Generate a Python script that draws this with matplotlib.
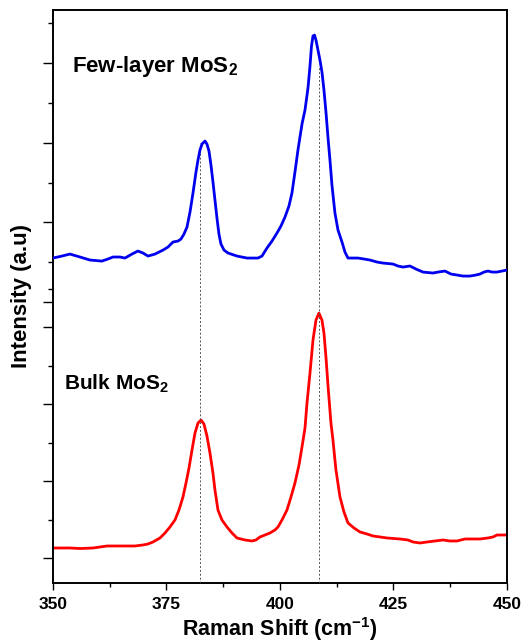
import numpy as np
import matplotlib
matplotlib.use("Agg")
import matplotlib.pyplot as plt
from matplotlib.ticker import MultipleLocator, FixedLocator

plt.rcParams['font.family'] = ['Liberation Sans', 'DejaVu Sans']
plt.rcParams['font.weight'] = 'bold'
plt.rcParams['mathtext.fontset'] = 'custom'
plt.rcParams['mathtext.rm'] = 'Liberation Sans:bold'
plt.rcParams['mathtext.default'] = 'rm'

# few-layer MoS2 spectrum (blue, upper trace)
few_shift = [350.00, 351.98, 353.74, 355.95, 358.15, 360.79, 362.11, 363.22, 364.76, 365.86,
             367.40, 368.72, 369.82, 370.93, 372.47, 374.23, 375.33, 376.43, 377.53, 378.19,
             378.85, 379.52, 380.18, 380.84, 381.50, 381.94, 382.38, 382.82, 383.48, 383.92,
             384.36, 384.80, 385.24, 385.68, 386.12, 386.56, 387.00, 387.67, 388.55, 390.53,
             392.73, 395.15, 396.04, 397.14, 398.24, 399.34, 400.22, 401.10, 401.98, 402.64,
             403.30, 403.96, 404.85, 405.51, 406.17, 406.61, 406.94, 407.27, 407.60, 407.93,
             408.37, 408.81, 409.25, 409.69, 410.13, 410.57, 411.01, 411.45, 412.11, 412.78,
             413.66, 414.32, 414.98, 416.08, 417.18, 418.50, 419.82, 421.37, 422.69, 424.89,
             425.99, 427.09, 428.63, 429.96, 431.50, 433.70, 434.80, 436.34, 437.67, 438.99,
             440.31, 441.85, 443.17, 444.05, 444.93, 445.81, 446.70, 447.80, 448.90, 450.00]
few_int = [1.552, 1.577, 1.602, 1.565, 1.527, 1.514, 1.540, 1.565, 1.565, 1.552,
           1.602, 1.640, 1.615, 1.577, 1.602, 1.652, 1.690, 1.753, 1.765, 1.790,
           1.853, 1.941, 2.129, 2.368, 2.631, 2.782, 2.907, 2.982, 3.020, 2.982,
           2.895, 2.719, 2.506, 2.280, 2.054, 1.853, 1.728, 1.652, 1.615, 1.577,
           1.552, 1.552, 1.577, 1.678, 1.765, 1.866, 1.954, 2.066, 2.205, 2.368,
           2.631, 2.907, 3.233, 3.409, 3.685, 3.961, 4.212, 4.338, 4.350, 4.287,
           4.162, 4.036, 3.886, 3.660, 3.384, 3.070, 2.782, 2.468, 2.117, 1.903,
           1.753, 1.627, 1.552, 1.552, 1.552, 1.540, 1.527, 1.502, 1.489, 1.477,
           1.452, 1.439, 1.452, 1.414, 1.376, 1.364, 1.376, 1.389, 1.351, 1.339,
           1.326, 1.326, 1.339, 1.351, 1.376, 1.389, 1.376, 1.376, 1.389, 1.401]

# bulk MoS2 spectrum (red, lower trace)
bulk_shift = [350.00, 353.74, 355.95, 358.81, 360.35, 361.89, 363.66, 366.30, 368.06, 369.82,
              370.93, 372.03, 373.57, 374.67, 375.77, 376.87, 377.75, 378.63, 379.30, 379.96,
              380.62, 381.28, 381.94, 382.60, 383.26, 383.92, 384.58, 385.24, 385.68, 386.34,
              387.22, 388.33, 389.43, 390.53, 392.29, 393.83, 394.71, 395.59, 396.70, 397.80,
              398.90, 399.56, 400.44, 401.54, 402.42, 403.30, 404.19, 404.85, 405.51, 405.95,
              406.61, 407.27, 407.93, 408.59, 409.25, 409.69, 410.13, 410.57, 411.23, 411.67,
              412.33, 413.22, 414.10, 414.98, 416.30, 417.62, 419.16, 420.48, 422.03, 423.57,
              426.43, 428.19, 429.30, 430.84, 432.38, 434.14, 435.90, 437.44, 438.99, 440.75,
              442.51, 444.05, 445.81, 446.92, 447.80, 448.90, 450.00]
bulk_int = [0.130, 0.130, 0.123, 0.130, 0.143, 0.156, 0.156, 0.156, 0.156, 0.169,
            0.182, 0.208, 0.260, 0.325, 0.403, 0.494, 0.623, 0.792, 0.974, 1.169,
            1.403, 1.623, 1.753, 1.792, 1.740, 1.584, 1.364, 1.104, 0.883, 0.623,
            0.494, 0.403, 0.325, 0.260, 0.234, 0.221, 0.234, 0.273, 0.299, 0.325,
            0.364, 0.403, 0.494, 0.623, 0.792, 0.974, 1.208, 1.442, 1.688, 2.013,
            2.403, 2.831, 3.091, 3.182, 3.091, 2.922, 2.610, 2.247, 1.753, 1.532,
            1.143, 0.792, 0.597, 0.455, 0.390, 0.338, 0.312, 0.286, 0.273, 0.260,
            0.247, 0.234, 0.208, 0.195, 0.208, 0.221, 0.234, 0.221, 0.221, 0.247,
            0.247, 0.247, 0.260, 0.273, 0.299, 0.299, 0.299]

# peak positions (E2g and A1g modes) and height of the guide lines
peak_pos = [382.4, 408.6]
guide_top = [3.0, 3.95]

fig = plt.figure(figsize=(5.22, 6.44), dpi=100)
rect = [0.1015, 0.0947, 0.8697, 0.8898]
ax = fig.add_axes(rect)
ax2 = fig.add_axes(rect, sharex=ax)
ax2.patch.set_visible(False)

ax.plot(bulk_shift, bulk_int, color='#ff0000', lw=2.0, solid_joinstyle='round')
ax2.plot(few_shift, few_int, color='#0000ee', lw=2.0, solid_joinstyle='round')

ax.set_xlim(350, 450)
ax.set_ylim(-0.325, 7.12)
ax2.set_ylim(-2.526, 4.665)

ax2.vlines(peak_pos, -2.526, guide_top, colors='#555555', linestyles=(0, (2, 2)),
           lw=0.7, zorder=0)

for s in ax.spines.values():
    s.set_linewidth(1.4)
for s in ax2.spines.values():
    s.set_visible(False)

ax.xaxis.set_major_locator(MultipleLocator(25))
ax.xaxis.set_minor_locator(MultipleLocator(12.5))
ax.yaxis.set_major_locator(FixedLocator([0, 1, 2, 3]))
ax.yaxis.set_minor_locator(FixedLocator([0.5, 1.5, 2.5, 3.5]))
ax2.yaxis.set_major_locator(FixedLocator([1, 2, 3, 4]))
ax2.yaxis.set_minor_locator(FixedLocator([1.5, 2.5, 3.5, 4.5]))

for a in (ax, ax2):
    a.tick_params(axis='y', which='major', direction='out', length=7, width=1.0,
                  labelleft=False)
    a.tick_params(axis='y', which='minor', direction='out', length=3.5, width=1.0)
ax.tick_params(axis='x', which='major', direction='out', length=5, width=1.0,
               labelsize=12.5, pad=5)
ax.tick_params(axis='x', which='minor', direction='out', length=3, width=1.0)
ax2.tick_params(axis='x', which='both', bottom=False, labelbottom=False)
for lab in ax.get_xticklabels():
    lab.set_fontweight('bold')

ax.set_xlabel('Raman Shift (cm$^{-1}$)', fontsize=15.5, fontweight='bold', labelpad=2)
ax.set_ylabel('Intensity (a.u)', fontsize=16, fontweight='bold', labelpad=8)

ax.text(0.042, 0.892, 'Few-layer MoS$_2$', transform=ax.transAxes, fontsize=16,
        fontweight='bold', va='baseline')
ax.text(0.024, 0.337, 'Bulk MoS$_2$', transform=ax.transAxes, fontsize=15,
        fontweight='bold', va='baseline')

fig.savefig('out.png', dpi=100)
